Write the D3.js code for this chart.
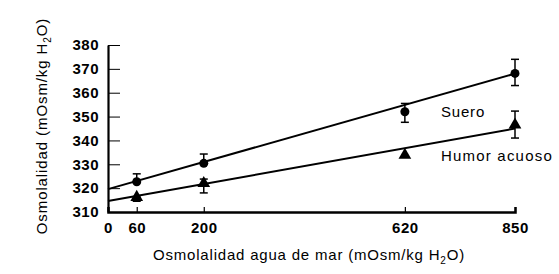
<!DOCTYPE html>
<html><head><meta charset="utf-8">
<script src="https://cdn.jsdelivr.net/npm/d3@7"></script>
<style>
body{margin:0;background:#fff;}
text{font-family:"Liberation Sans",Arial,sans-serif;fill:#000;}
</style></head>
<body><svg id="c" width="559" height="274"></svg>
<script>
const xTicks = [0, 60, 200, 620, 850];
const yTicks = [310, 320, 330, 340, 350, 360, 370, 380];
const sueroX = [60, 200, 620, 850];
const sueroY = [322.7, 330.4, 352, 368.1];
const sueroErrHi = [326, 334.3, 355.5, 374];
const sueroErrLo = [322.7, 330.4, 347.6, 363];
const humorX = [60, 200, 620, 850];
const humorY = [316.2, 322, 333.9, 346.5];
const humorErrHi = [316.2, 323.8, 333.9, 352.3];
const humorErrLo = [314.5, 318, 333.9, 341];
const sueroFit = [319.6, 368];   // at x = 0 and 850
const humorFit = [314.6, 345];
const fitX = [0, 850];

const svg = d3.select("#c");
const x = d3.scaleLinear().domain([0, 850]).range([108, 515]);
const y = d3.scaleLinear().domain([310, 380]).range([212, 45]);

// Y axis
const ya = svg.append("g").attr("transform", "translate(108,0)")
  .call(d3.axisLeft(y).tickValues(yTicks).tickSizeInner(-12).tickSizeOuter(0).tickPadding(9));
ya.select(".domain").attr("stroke-width", 2.2);
ya.selectAll(".tick line").attr("stroke-width", 1);
ya.selectAll("text").attr("font-size", 15).attr("font-weight", "bold").style("letter-spacing", "0.5px").attr("font-family", null);

// X axis
const xa = svg.append("g").attr("transform", "translate(0,212)")
  .call(d3.axisBottom(x).tickValues(xTicks).tickSizeInner(-5).tickSizeOuter(-5).tickPadding(10));
xa.select(".domain").attr("stroke-width", 2.5);
xa.selectAll(".tick line").attr("stroke-width", 1.2);
xa.selectAll("text").attr("font-size", 15).attr("font-weight", "bold").style("letter-spacing", "0.5px").attr("font-family", null);

// Fit lines
const line = d3.line().x(d => x(d[0])).y(d => y(d[1]));
svg.append("path").datum(fitX.map((v, i) => [v, sueroFit[i]])).attr("d", line)
  .attr("stroke", "#000").attr("stroke-width", 2).attr("fill", "none");
svg.append("path").datum(fitX.map((v, i) => [v, humorFit[i]])).attr("d", line)
  .attr("stroke", "#000").attr("stroke-width", 2).attr("fill", "none");

// Error bars
function errBars(xs, lo, hi) {
  const g = svg.append("g").attr("stroke", "#000").attr("stroke-width", 1.5);
  xs.forEach((v, i) => {
    if (hi[i] - lo[i] < 0.01) return;
    g.append("line").attr("x1", x(v)).attr("x2", x(v)).attr("y1", y(lo[i])).attr("y2", y(hi[i]));
    g.append("line").attr("x1", x(v) - 4).attr("x2", x(v) + 4).attr("y1", y(hi[i])).attr("y2", y(hi[i]));
    g.append("line").attr("x1", x(v) - 4).attr("x2", x(v) + 4).attr("y1", y(lo[i])).attr("y2", y(lo[i]));
  });
}
errBars(sueroX, sueroErrLo, sueroErrHi);
errBars(humorX, humorErrLo, humorErrHi);

// Markers
svg.append("g").selectAll("circle").data(sueroX).join("circle")
  .attr("cx", d => x(d)).attr("cy", (d, i) => y(sueroY[i])).attr("r", 4.5).attr("fill", "#000");
const tri = d3.symbol().type(d3.symbolTriangle).size(70);
svg.append("g").selectAll("path").data(humorX).join("path")
  .attr("d", tri).attr("transform", (d, i) => `translate(${x(d)},${y(humorY[i])})`).attr("fill", "#000");

// Series labels
svg.append("text").attr("x", 441).attr("y", 117).attr("font-size", 15).style("letter-spacing", "0.8px").text("Suero");
svg.append("text").attr("x", 441).attr("y", 161).attr("font-size", 15).style("letter-spacing", "1.2px").text("Humor acuoso");

// Axis titles
const xt = svg.append("text").attr("x", 309).attr("y", 260).attr("text-anchor", "middle").attr("font-size", 15).style("letter-spacing", "0.8px");
xt.append("tspan").text("Osmolalidad agua de mar (mOsm/kg H");
xt.append("tspan").attr("font-size", 10).attr("dy", 4).text("2");
xt.append("tspan").attr("dy", -4).text("O)");

const yt = svg.append("text").attr("transform", "translate(47,126) rotate(-90)").attr("text-anchor", "middle").attr("font-size", 15).style("letter-spacing", "0.9px");
yt.append("tspan").text("Osmolalidad  (mOsm/kg H");
yt.append("tspan").attr("font-size", 10).attr("dy", 4).text("2");
yt.append("tspan").attr("dy", -4).text("O)");
</script></body></html>
